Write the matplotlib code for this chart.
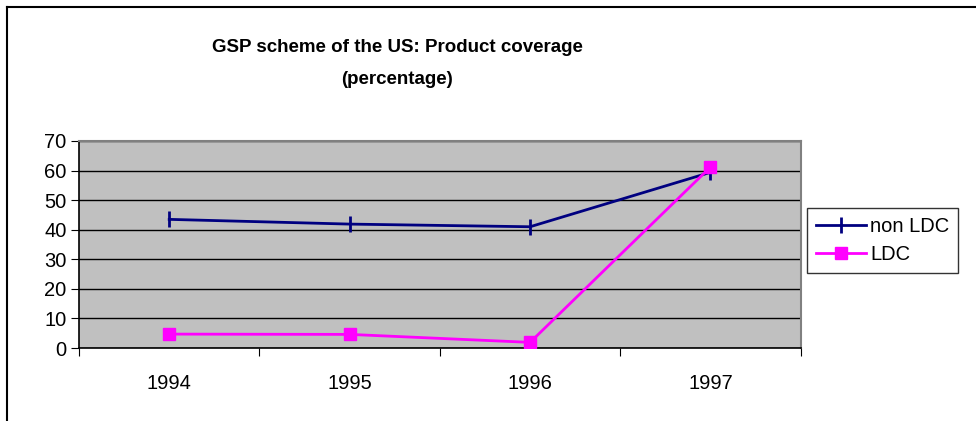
import numpy as np
import matplotlib.pyplot as plt

plt.rcParams['font.family'] = ['Liberation Sans', 'DejaVu Sans']

years = ['1994', '1995', '1996', '1997']
non_ldc = [43.5, 41.9, 41.0, 59.4]
ldc = [4.7, 4.6, 1.9, 61.2]

W, H = 976, 421
fig = plt.figure(figsize=(W/100, H/100), dpi=100)

# outer chart frame (only top and left edges show in the crop)
fig.add_artist(plt.Line2D([7/W, 7/W], [0, 1 - 7/H], color='black', lw=1.5))
fig.add_artist(plt.Line2D([7/W, 1], [1 - 7/H, 1 - 7/H], color='black', lw=1.5))

left, right, top, bottom = 79, 800.7, 141, 348
ax = fig.add_axes([left/W, 1 - bottom/H, (right-left)/W, (bottom-top)/H])
ax.set_facecolor('#c0c0c0')

x = np.arange(len(years))
ax.plot(x, non_ldc, color='#000080', lw=2, marker='|', ms=12, mew=2, label='non LDC', zorder=3)
ax.plot(x, ldc, color='#ff00ff', lw=2, marker='s', ms=9, label='LDC', zorder=4)

ax.set_xlim(-0.5, 3.5)
ax.set_ylim(0, 70)
ax.set_yticks(range(0, 71, 10))
ax.yaxis.grid(True, color='black', lw=1)
ax.set_axisbelow(True)
ax.set_xticks(np.arange(-0.5, 3.6, 1))
ax.set_xticklabels([])
ax.set_xticks(x, minor=True)
ax.set_xticklabels(years, minor=True)
ax.tick_params(axis='x', which='minor', length=0, pad=19, labelsize=14.5)
ax.tick_params(axis='x', which='major', length=6, direction='out', color='black')
ax.tick_params(axis='y', length=6, direction='out', labelsize=14.5, pad=3)
for s in ['top', 'right']:
    ax.spines[s].set_color('#808080')
    ax.spines[s].set_linewidth(1.5)
for s in ['left', 'bottom']:
    ax.spines[s].set_color('black')
    ax.spines[s].set_linewidth(1.2)

leg = fig.legend(loc='upper left', bbox_to_anchor=(806.7/W, 1 - 208/H), fontsize=14.5,
                 frameon=True, fancybox=False, edgecolor='black', borderpad=0.45,
                 handlelength=2.5, handletextpad=0.2, labelspacing=0.45, borderaxespad=0)
leg.get_frame().set_linewidth(1)

fig.text(397/W, 1 - 47/H, 'GSP scheme of the US: Product coverage', ha='center', va='center',
         fontsize=13.5, fontweight='bold')
fig.text(397/W, 1 - 79/H, '(percentage)', ha='center', va='center',
         fontsize=13.5, fontweight='bold')

fig.savefig('out.png', dpi=100)
